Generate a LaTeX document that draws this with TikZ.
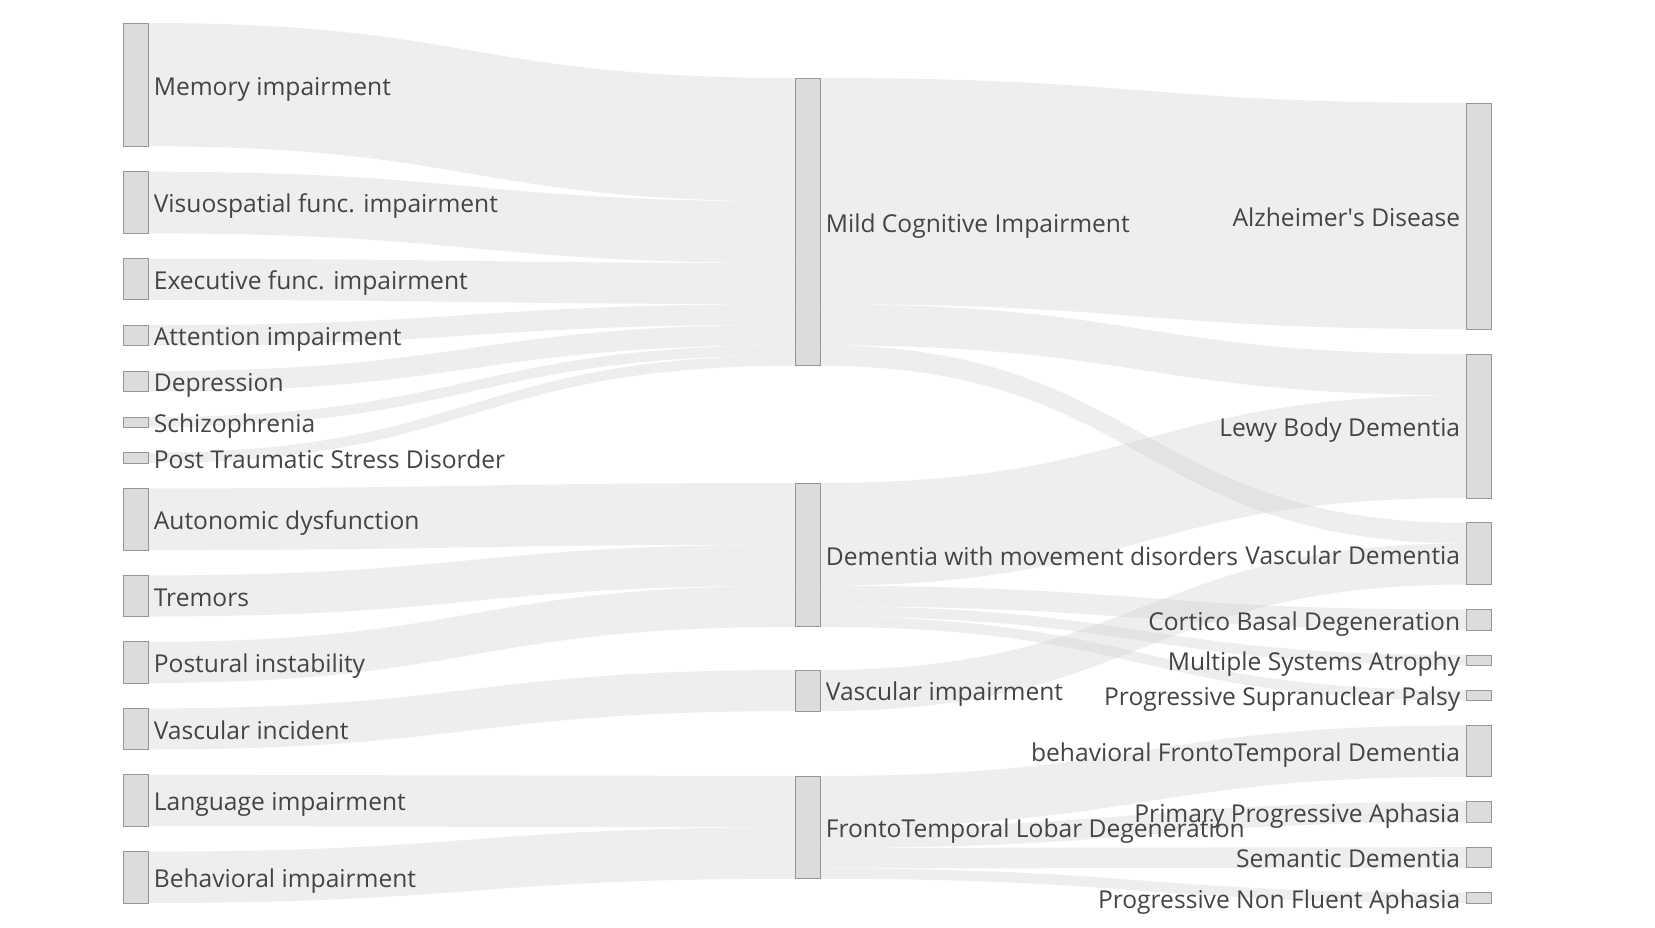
\documentclass[tikz,border=0pt]{standalone}
\usepackage{fontspec}
\setmainfont{Open Sans}
\usetikzlibrary{calc}

\definecolor{flowgray}{RGB}{200,200,200}
\definecolor{barfill}{RGB}{220,220,220}
\definecolor{barline}{RGB}{150,150,150}
\definecolor{labelgray}{RGB}{68,68,68}

\pgfdeclarelayer{flows}
\pgfsetlayers{flows,main}

% hauteur d'une unite de flux
\newcommand{\uh}{0.2056cm}
% flux : source, decalage source, cible, decalage cible, largeur
\newcommand{\flow}[5]{%
  \coordinate (fa) at ([yshift=-#2*\uh]#1.north east);
  \coordinate (fb) at ([yshift=-#4*\uh]#3.north west);
  \coordinate (fc) at ([yshift=-#5*\uh]fb);
  \coordinate (fd) at ([yshift=-#5*\uh]fa);
  \coordinate (fm) at ($(fa)!0.5!(fb)$);
  \begin{pgfonlayer}{flows}
    \fill[band] (fa) .. controls (fa -| fm) and (fb -| fm) .. (fb)
      -- (fc) .. controls (fc -| fm) and (fd -| fm) .. (fd) -- cycle;
  \end{pgfonlayer}}

\tikzset{
  bar/.style={draw=barline, fill=barfill, line width=0.5pt, minimum width=0.5cm,
    minimum height=#1*\uh, inner sep=0pt, outer sep=0pt, anchor=north west},
  lbl/.style={text=labelgray, inner sep=0pt, font=\fontsize{14}{17}\selectfont,
    text height=11.8pt, text depth=0pt},
  band/.style={fill=flowgray, fill opacity=0.3},
  every label/.style={lbl},
  label distance=0.11cm
}

\begin{document}
\begin{tikzpicture}[x=0.02cm, y=-0.02cm]
    \useasboundingbox (0,0) rectangle (1655,928);

    % Colonne gauche : symptomes
    \node[bar=12, label={east:Memory impairment}] (mem) at (123,23) {};
    \node[bar=6, label={east:Visuospatial func. impairment}] (vis) at (123,171.7) {};
    \node[bar=4, label={east:Executive func. impairment}] (exe) at (123,258.8) {};
    \node[bar=2, label={east:Attention impairment}] (att) at (123,325.2) {};
    \node[bar=2, label={east:Depression}] (dep) at (123,371.2) {};
    \node[bar=1, label={east:Schizophrenia}] (sch) at (123,417.1) {};
    \node[bar=1, label={east:Post Traumatic Stress Disorder}] (pts) at (123,452.7) {};
    \node[bar=6, label={east:Autonomic dysfunction}] (aut) at (123,488.4) {};
    \node[bar=4, label={east:Tremors}] (tre) at (123,575.4) {};
    \node[bar=4, label={east:Postural instability}] (pos) at (123,641.9) {};
    \node[bar=4, label={east:Vascular incident}] (vin) at (123,708.4) {};
    \node[bar=5, label={east:Language impairment}] (lan) at (123,774.8) {};
    \node[bar=5, label={east:Behavioral impairment}] (beh) at (123,851.6) {};

    % Colonne du milieu : groupes
    \node[bar=28, label={east:Mild Cognitive Impairment}] (mci) at (795,78) {};
    \node[bar=14, label={east:Dementia with movement disorders}] (dmd) at (795,483) {};
    \node[bar=4, label={east:Vascular impairment}] (vim) at (795,670) {};
    \node[bar=10, label={east:FrontoTemporal Lobar Degeneration}] (ftl) at (795,776) {};

    % Colonne droite : diagnostics
    \node[bar=22, label={west:Alzheimer\textquotesingle s Disease}] (ad) at (1466,103) {};
    \node[bar=14, label={west:Lewy Body Dementia}] (lbd) at (1466,354.1) {};
    \node[bar=6, label={west:Vascular Dementia}] (vad) at (1466,522.9) {};
    \node[bar=2, label={west:Cortico Basal Degeneration}] (cbd) at (1466,609.5) {};
    \node[bar=1, label={west:Multiple Systems Atrophy}] (msa) at (1466,655) {};
    \node[bar=1, label={west:Progressive Supranuclear Palsy}] (psp) at (1466,690.2) {};
    \node[bar=5, label={west:behavioral FrontoTemporal Dementia}] (bvf) at (1466,725.4) {};
    \node[bar=2, label={west:Primary Progressive Aphasia}] (ppa) at (1466,801.7) {};
    \node[bar=2, label={west:Semantic Dementia}] (sdm) at (1466,847.2) {};
    \node[bar=1, label={west:Progressive Non Fluent Aphasia}] (pnf) at (1466,892.7) {};

    % Flux gauche -> milieu
    \flow{mem}{0}{mci}{0}{12}
    \flow{vis}{0}{mci}{12}{6}
    \flow{exe}{0}{mci}{18}{4}
    \flow{att}{0}{mci}{22}{2}
    \flow{dep}{0}{mci}{24}{2}
    \flow{sch}{0}{mci}{26}{1}
    \flow{pts}{0}{mci}{27}{1}
    \flow{aut}{0}{dmd}{0}{6}
    \flow{tre}{0}{dmd}{6}{4}
    \flow{pos}{0}{dmd}{10}{4}
    \flow{vin}{0}{vim}{0}{4}
    \flow{lan}{0}{ftl}{0}{5}
    \flow{beh}{0}{ftl}{5}{5}

    % Flux milieu -> droite
    \flow{mci}{0}{ad}{0}{22}
    \flow{mci}{22}{lbd}{0}{4}
    \flow{mci}{26}{vad}{0}{2}
    \flow{dmd}{0}{lbd}{4}{10}
    \flow{dmd}{10}{cbd}{0}{2}
    \flow{dmd}{12}{msa}{0}{1}
    \flow{dmd}{13}{psp}{0}{1}
    \flow{vim}{0}{vad}{2}{4}
    \flow{ftl}{0}{bvf}{0}{5}
    \flow{ftl}{5}{ppa}{0}{2}
    \flow{ftl}{7}{sdm}{0}{2}
    \flow{ftl}{9}{pnf}{0}{1}
\end{tikzpicture}
\end{document}
